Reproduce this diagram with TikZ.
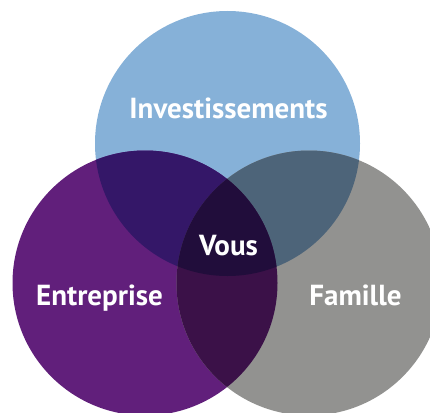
\documentclass[tikz,border=0pt]{standalone}
\usepackage{fontspec}
\setmainfont{PT Sans}
\definecolor{cblue}{HTML}{86B1D8}
\definecolor{cpurple}{HTML}{611F7B}
\definecolor{cgrey}{HTML}{929290}
\definecolor{cbp}{HTML}{341768}
\definecolor{cbg}{HTML}{4D6479}
\definecolor{cpg}{HTML}{3B1148}
\definecolor{ccenter}{HTML}{210D3B}
\tikzset{lbl/.style={text=white, font=\fontsize{29}{29}\selectfont\bfseries, anchor=base, inner sep=0pt}}
\begin{document}
\begin{tikzpicture}[x=1pt,y=-1pt]
\useasboundingbox (0,0) rectangle (430,412);
\clip (0,0) rectangle (430,412);
\coordinate (B) at (227.5,143.5);
\coordinate (P) at (145,283);
\coordinate (G) at (309,283);
\fill[cblue] (B) circle (132.5pt);
\fill[cpurple] (P) circle (132.5pt);
\fill[cgrey] (G) circle (132.5pt);
\begin{scope}
\clip (B) circle (132.5pt);
\fill[cbp] (P) circle (132.5pt);
\fill[cbg] (G) circle (132.5pt);
\end{scope}
\begin{scope}
\clip (P) circle (132.5pt);
\fill[cpg] (G) circle (132.5pt);
\end{scope}
\begin{scope}
\clip (B) circle (132.5pt);
\clip (P) circle (132.5pt);
\fill[ccenter] (G) circle (132.5pt);
\end{scope}
\node[lbl] (inv) at (228.5,118) {Investissements};
\node[lbl] (vous) at (228.5,255) {Vous};
\node[lbl] (ent) at (99.5,305) {Entreprise};
\node[lbl] (fam) at (355.5,305) {Famille};
\end{tikzpicture}
\end{document}
